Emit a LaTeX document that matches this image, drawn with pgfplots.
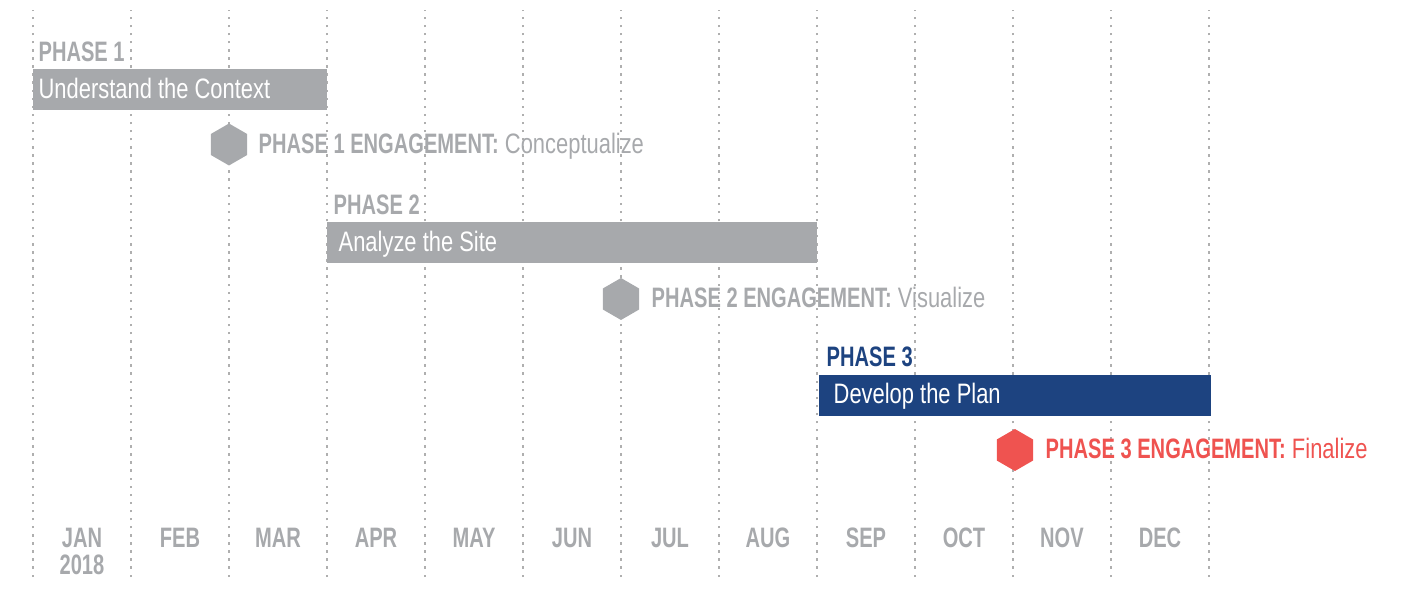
\documentclass[border=0pt]{standalone}
\usepackage{fontspec}
\setmainfont{Liberation Sans}[FakeStretch=0.78, BoldFeatures={FakeStretch=0.715}]
\usepackage{pgfplots}
\pgfplotsset{compat=1.18}

\definecolor{phasegray}{RGB}{167,169,172}
\definecolor{navy}{RGB}{29,67,128}
\definecolor{coral}{RGB}{239,83,80}
\definecolor{dotgray}{RGB}{175,175,175}

% pointy-top hexagon for the engagement milestones
\pgfdeclareplotmark{hexagon}{%
  \pgfpathmoveto{\pgfqpointpolar{90}{\pgfplotmarksize}}%
  \pgfpathlineto{\pgfqpointpolar{150}{\pgfplotmarksize}}%
  \pgfpathlineto{\pgfqpointpolar{210}{\pgfplotmarksize}}%
  \pgfpathlineto{\pgfqpointpolar{270}{\pgfplotmarksize}}%
  \pgfpathlineto{\pgfqpointpolar{330}{\pgfplotmarksize}}%
  \pgfpathlineto{\pgfqpointpolar{30}{\pgfplotmarksize}}%
  \pgfpathclose\pgfusepathqfill}

\newcommand{\lbl}{\fontsize{8}{9.6}\selectfont}
\tikzset{
  month/.style={anchor=base, inner sep=0, text=phasegray, font=\lbl\bfseries},
  lab/.style={anchor=base west, inner sep=0, font=\lbl},
}

\begin{document}
\begin{tikzpicture}
\begin{axis}[
    width=14.14cm, height=5.67cm, scale only axis,
    xmin=-0.3367, xmax=14.092, ymin=-577, ymax=-10,
    axis line style={draw=none}, major tick length=0pt,
    xtick={0,...,12}, xticklabels={}, ytick=\empty,
    xmajorgrids, grid style={dotgray, line width=0.7pt, dash pattern=on 0.7pt off 1.6pt},
    clip=false,
    ]
% phase bars: month start..end, pixel rows
\addplot[fill=phasegray, draw=none] coordinates {(0,-69) (3,-69) (3,-110) (0,-110)};
\addplot[fill=phasegray, draw=none] coordinates {(3,-222) (8,-222) (8,-263) (3,-263)};
\addplot[fill=navy, draw=none] coordinates {(8.02,-375) (12.02,-375) (12.02,-416) (8.02,-416)};
% engagement milestones
\addplot[only marks, mark=hexagon, mark size=5.97pt, color=phasegray] coordinates {(2,-144.5) (6,-299)};
\addplot[only marks, mark=hexagon, mark size=5.97pt, color=coral] coordinates {(10.02,-450)};

\path (axis cs:-0.3367,-577) rectangle (axis cs:14.092,0);

\node[lab, text=phasegray, font=\lbl\bfseries] at (axis cs:0.05,-62) {PHASE 1};
\node[lab, text=white] at (axis cs:0.05,-99) {Understand the Context};
\node[lab, text=phasegray] at (axis cs:2.296,-153.5) {\textbf{PHASE 1 ENGAGEMENT:} Conceptualize};

\node[lab, text=phasegray, font=\lbl\bfseries] at (axis cs:3.061,-215) {PHASE 2};
\node[lab, text=white] at (axis cs:3.112,-252) {Analyze the Site};
\node[lab, text=phasegray] at (axis cs:6.306,-307.5) {\textbf{PHASE 2 ENGAGEMENT:} Visualize};

\node[lab, text=navy, font=\lbl\bfseries] at (axis cs:8.092,-367) {PHASE 3};
\node[lab, text=white] at (axis cs:8.163,-404) {Develop the Plan};
\node[lab, text=coral] at (axis cs:10.327,-459) {\textbf{PHASE 3 ENGAGEMENT:} Finalize};

\node[month] at (axis cs:0.5,-548) {JAN};
\node[month] at (axis cs:1.5,-548) {FEB};
\node[month] at (axis cs:2.5,-548) {MAR};
\node[month] at (axis cs:3.5,-548) {APR};
\node[month] at (axis cs:4.5,-548) {MAY};
\node[month] at (axis cs:5.5,-548) {JUN};
\node[month] at (axis cs:6.5,-548) {JUL};
\node[month] at (axis cs:7.5,-548) {AUG};
\node[month] at (axis cs:8.5,-548) {SEP};
\node[month] at (axis cs:9.5,-548) {OCT};
\node[month] at (axis cs:10.5,-548) {NOV};
\node[month] at (axis cs:11.5,-548) {DEC};
\node[month] at (axis cs:0.5,-574) {2018};
\end{axis}
\end{tikzpicture}
\end{document}
